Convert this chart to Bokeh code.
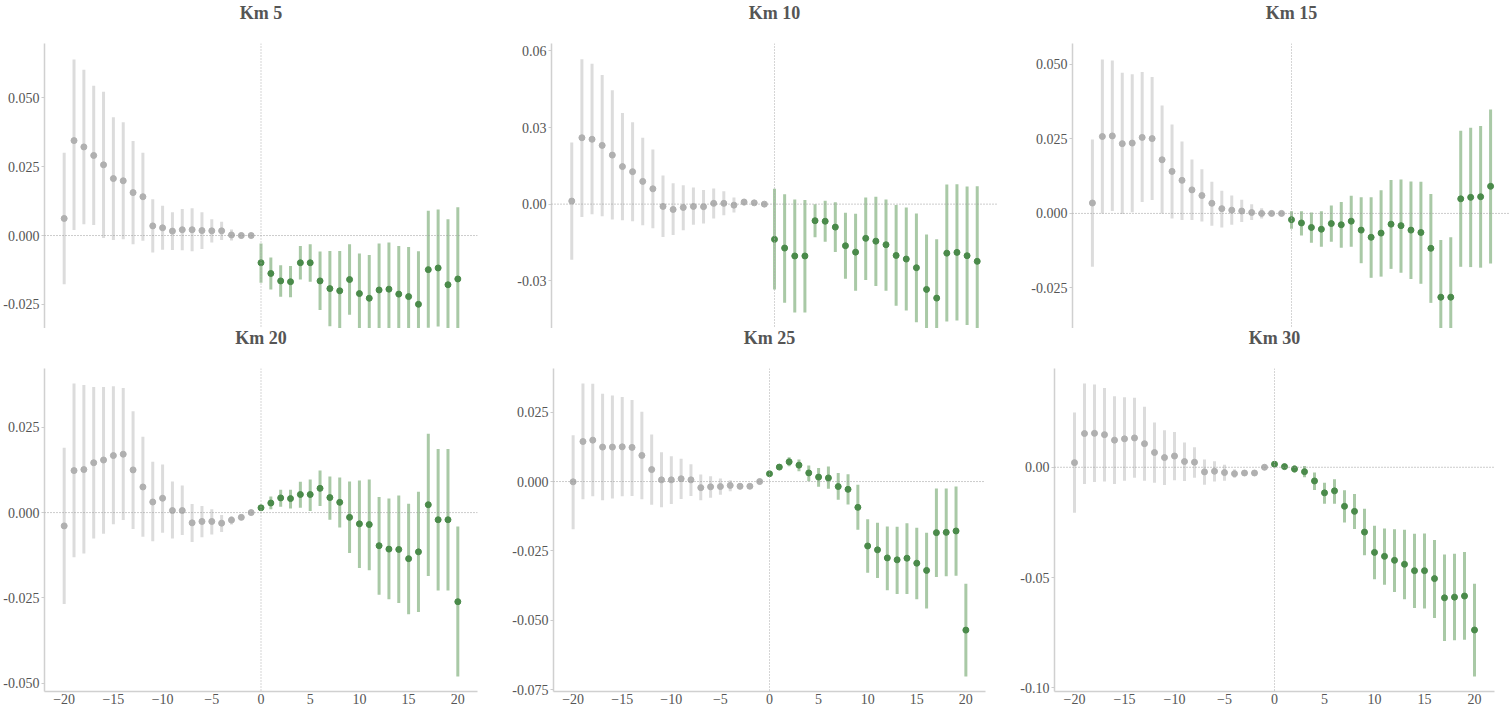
from bokeh.plotting import figure
from bokeh.layouts import column, row
from bokeh.models import Span, FixedTicker, NumeralTickFormatter, Range1d, ColumnDataSource, Label
from bokeh.embed import file_html
from bokeh.resources import INLINE

periods = list(range(-20, 21))
x_ticks = [-20, -15, -10, -5, 0, 5, 10, 15, 20]

est_km5 = [0.0062, 0.0345, 0.0322, 0.0291, 0.0257, 0.0207, 0.0199, 0.0156, 0.0141, 0.0035, 0.0028, 0.0016, 0.0021, 0.0021, 0.0018, 0.0017, 0.0017, 0.0002, 0.0000, 0.0,
           -0.0099, -0.0138, -0.0165, -0.0168, -0.0099, -0.0099, -0.0165, -0.0193, -0.0201, -0.0160, -0.0211, -0.0228, -0.0198, -0.0195, -0.0213, -0.0222, -0.0250, -0.0124, -0.0118, -0.0179, -0.0158]
hi_km5 = [0.0301, 0.0640, 0.0603, 0.0544, 0.0523, 0.0430, 0.0412, 0.0344, 0.0301, 0.0132, 0.0108, 0.0085, 0.0096, 0.0099, 0.0085, 0.0059, 0.0050, 0.0022, 0.0011, 0.0,
          -0.0029, -0.0080, -0.0108, -0.0111, -0.0038, -0.0032, -0.0058, -0.0056, -0.0056, -0.0032, -0.0065, -0.0071, -0.0029, -0.0025, -0.0038, -0.0042, -0.0057, 0.0090, 0.0095, 0.0059, 0.0103]
lo_km5 = [-0.0177, 0.0020, 0.0041, 0.0038, -0.0009, -0.0016, -0.0014, -0.0032, -0.0019, -0.0062, -0.0052, -0.0053, -0.0054, -0.0057, -0.0049, -0.0025, -0.0016, -0.0018, -0.0011, 0.0,
          -0.0172, -0.0196, -0.0223, -0.0224, -0.0160, -0.0168, -0.0271, -0.0330, -0.0346, -0.0288, -0.0357, -0.0385, -0.0367, -0.0365, -0.0388, -0.0402, -0.0443, -0.0335, -0.0331, -0.0417, -0.0419]

est_km10 = [0.0012, 0.0260, 0.0254, 0.0230, 0.0192, 0.0147, 0.0127, 0.0089, 0.0060, -0.0009, -0.0021, -0.0013, -0.0009, -0.0010, 0.0003, 0.0003, -0.0004, 0.0008, 0.0005, 0.0,
            -0.0138, -0.0172, -0.0203, -0.0203, -0.0065, -0.0067, -0.0090, -0.0163, -0.0188, -0.0134, -0.0145, -0.0159, -0.0201, -0.0215, -0.0249, -0.0334, -0.0368, -0.0192, -0.0189, -0.0202, -0.0224]
hi_km10 = [0.0241, 0.0567, 0.0550, 0.0506, 0.0446, 0.0357, 0.0321, 0.0260, 0.0214, 0.0112, 0.0082, 0.0074, 0.0065, 0.0055, 0.0061, 0.0050, 0.0026, 0.0021, 0.0012, 0.0,
           0.0060, 0.0039, 0.0018, 0.0016, 0.0000, 0.0013, 0.0007, -0.0034, -0.0038, 0.0026, 0.0029, 0.0018, -0.0003, -0.0013, -0.0037, -0.0119, -0.0138, 0.0077, 0.0078, 0.0069, 0.0070]
lo_km10 = [-0.0218, -0.0050, -0.0040, -0.0047, -0.0060, -0.0063, -0.0067, -0.0083, -0.0094, -0.0129, -0.0121, -0.0102, -0.0081, -0.0076, -0.0056, -0.0044, -0.0033, -0.0005, -0.0002, 0.0,
           -0.0334, -0.0386, -0.0424, -0.0424, -0.0130, -0.0147, -0.0187, -0.0292, -0.0339, -0.0297, -0.0321, -0.0339, -0.0398, -0.0417, -0.0463, -0.0549, -0.0598, -0.0460, -0.0456, -0.0473, -0.0518]

est_km15 = [0.0035, 0.0258, 0.0260, 0.0234, 0.0236, 0.0255, 0.0251, 0.0180, 0.0141, 0.0111, 0.0079, 0.0060, 0.0034, 0.0016, 0.0011, 0.0008, 0.0003, 0.0000, 0.0000, 0.0,
            -0.0021, -0.0032, -0.0047, -0.0053, -0.0034, -0.0038, -0.0026, -0.0056, -0.0080, -0.0066, -0.0036, -0.0041, -0.0056, -0.0064, -0.0117, -0.0281, -0.0281, 0.0049, 0.0054, 0.0056, 0.0091]
hi_km15 = [0.0248, 0.0516, 0.0513, 0.0472, 0.0467, 0.0474, 0.0458, 0.0362, 0.0298, 0.0241, 0.0181, 0.0148, 0.0106, 0.0076, 0.0060, 0.0046, 0.0031, 0.0017, 0.0008, 0.0,
           0.0007, 0.0007, 0.0003, 0.0007, 0.0027, 0.0038, 0.0059, 0.0054, 0.0054, 0.0078, 0.0112, 0.0114, 0.0107, 0.0106, 0.0065, -0.0089, -0.0080, 0.0277, 0.0287, 0.0293, 0.0349]
lo_km15 = [-0.0179, 0.0000, 0.0008, -0.0002, 0.0004, 0.0038, 0.0045, 0.0000, -0.0017, -0.0022, -0.0022, -0.0027, -0.0041, -0.0047, -0.0038, -0.0029, -0.0022, -0.0017, -0.0008, 0.0,
           -0.0051, -0.0074, -0.0098, -0.0112, -0.0095, -0.0115, -0.0112, -0.0167, -0.0216, -0.0212, -0.0186, -0.0199, -0.0220, -0.0236, -0.0300, -0.0473, -0.0482, -0.0179, -0.0180, -0.0182, -0.0168]

est_km20 = [-0.0039, 0.0123, 0.0126, 0.0146, 0.0154, 0.0167, 0.0171, 0.0125, 0.0075, 0.0031, 0.0042, 0.0006, 0.0006, -0.0030, -0.0026, -0.0026, -0.0031, -0.0022, -0.0014, 0.0,
            0.0014, 0.0028, 0.0043, 0.0041, 0.0053, 0.0053, 0.0071, 0.0044, 0.0030, -0.0014, -0.0033, -0.0035, -0.0097, -0.0107, -0.0108, -0.0135, -0.0115, 0.0023, -0.0021, -0.0021, -0.0261]
hi_km20 = [0.0190, 0.0378, 0.0374, 0.0368, 0.0368, 0.0370, 0.0365, 0.0297, 0.0222, 0.0149, 0.0141, 0.0091, 0.0079, 0.0025, 0.0019, 0.0010, -0.0007, -0.0011, -0.0008, 0.0,
           0.0022, 0.0047, 0.0067, 0.0067, 0.0090, 0.0097, 0.0123, 0.0106, 0.0103, 0.0091, 0.0094, 0.0097, 0.0046, 0.0041, 0.0050, 0.0026, 0.0061, 0.0231, 0.0186, 0.0186, -0.0041]
lo_km20 = [-0.0268, -0.0131, -0.0120, -0.0076, -0.0062, -0.0034, -0.0022, -0.0048, -0.0071, -0.0084, -0.0059, -0.0076, -0.0066, -0.0086, -0.0072, -0.0064, -0.0057, -0.0035, -0.0020, 0.0,
           0.0006, 0.0010, 0.0017, 0.0012, 0.0014, 0.0005, 0.0019, -0.0021, -0.0044, -0.0118, -0.0162, -0.0169, -0.0241, -0.0254, -0.0265, -0.0298, -0.0291, -0.0186, -0.0228, -0.0228, -0.0480]

est_km25 = [-0.0001, 0.0144, 0.0149, 0.0124, 0.0124, 0.0125, 0.0123, 0.0094, 0.0043, 0.0006, 0.0006, 0.0010, 0.0006, -0.0022, -0.0019, -0.0018, -0.0014, -0.0017, -0.0017, 0.0,
            0.0028, 0.0052, 0.0071, 0.0059, 0.0031, 0.0016, 0.0013, -0.0018, -0.0028, -0.0093, -0.0232, -0.0246, -0.0275, -0.0282, -0.0276, -0.0294, -0.0320, -0.0184, -0.0183, -0.0178, -0.0535]
hi_km25 = [0.0167, 0.0353, 0.0352, 0.0316, 0.0310, 0.0304, 0.0294, 0.0251, 0.0169, 0.0105, 0.0091, 0.0082, 0.0062, 0.0025, 0.0019, 0.0011, 0.0005, -0.0005, -0.0010, 0.0,
           0.0034, 0.0060, 0.0087, 0.0079, 0.0058, 0.0049, 0.0054, 0.0031, 0.0026, -0.0012, -0.0136, -0.0148, -0.0162, -0.0163, -0.0150, -0.0166, -0.0184, -0.0025, -0.0025, -0.0018, -0.0368]
lo_km25 = [-0.0172, -0.0064, -0.0053, -0.0067, -0.0061, -0.0053, -0.0052, -0.0064, -0.0084, -0.0093, -0.0081, -0.0063, -0.0052, -0.0067, -0.0058, -0.0048, -0.0035, -0.0029, -0.0024, 0.0,
           0.0022, 0.0044, 0.0055, 0.0037, 0.0001, -0.0019, -0.0026, -0.0066, -0.0083, -0.0174, -0.0328, -0.0347, -0.0391, -0.0405, -0.0405, -0.0424, -0.0457, -0.0344, -0.0341, -0.0339, -0.0702]

est_km30 = [0.0021, 0.0153, 0.0154, 0.0148, 0.0123, 0.0129, 0.0133, 0.0107, 0.0067, 0.0044, 0.0051, 0.0026, 0.0023, -0.0021, -0.0018, -0.0024, -0.0029, -0.0026, -0.0026, 0.0,
            0.0014, 0.0003, -0.0008, -0.0020, -0.0062, -0.0116, -0.0107, -0.0177, -0.0200, -0.0294, -0.0386, -0.0404, -0.0422, -0.0440, -0.0469, -0.0469, -0.0505, -0.0592, -0.0589, -0.0584, -0.0738]
hi_km30 = [0.0248, 0.0380, 0.0375, 0.0359, 0.0322, 0.0318, 0.0315, 0.0275, 0.0203, 0.0168, 0.0160, 0.0112, 0.0091, 0.0035, 0.0027, 0.0012, -0.0009, -0.0014, -0.0016, 0.0,
           0.0022, 0.0011, 0.0009, 0.0006, -0.0024, -0.0070, -0.0054, -0.0104, -0.0121, -0.0188, -0.0265, -0.0278, -0.0281, -0.0283, -0.0301, -0.0300, -0.0330, -0.0396, -0.0392, -0.0384, -0.0528]
lo_km30 = [-0.0206, -0.0076, -0.0067, -0.0064, -0.0076, -0.0061, -0.0048, -0.0061, -0.0070, -0.0080, -0.0059, -0.0062, -0.0047, -0.0079, -0.0064, -0.0061, -0.0048, -0.0038, -0.0036, 0.0,
           0.0006, -0.0006, -0.0024, -0.0045, -0.0103, -0.0165, -0.0165, -0.0251, -0.0280, -0.0399, -0.0508, -0.0533, -0.0566, -0.0599, -0.0638, -0.0640, -0.0684, -0.0788, -0.0785, -0.0782, -0.0949]

titles = ["Km 5", "Km 10", "Km 15", "Km 20", "Km 25", "Km 30"]
y_ticks = [[-0.025, 0.0, 0.025, 0.05], [-0.03, 0.0, 0.03, 0.06], [-0.025, 0.0, 0.025, 0.05],
           [-0.05, -0.025, 0.0, 0.025], [-0.075, -0.05, -0.025, 0.0, 0.025], [-0.1, -0.05, 0.0]]
y_formats = ["0.000", "0.00", "0.000", "0.000", "0.000", "0.00"]

FONT = "Liberation Serif"
GREY_BAR = "#dcdcdc"
GREY_DOT = "#b0b0b0"
GREEN_BAR = "#a9c9a6"
GREEN_DOT = "#4a8a4a"
TITLE_H = 24


def title_strip(title, bl, fw, br, ty):
    """Thin figure holding one panel title, centred over the panel's frame."""
    w = bl + fw + br
    t = figure(width=w, height=TITLE_H, x_range=Range1d(0, w), y_range=Range1d(0, TITLE_H),
               output_backend="svg", toolbar_location=None, title=None,
               x_axis_location=None, y_axis_location=None,
               min_border_left=0, min_border_right=0, min_border_top=0, min_border_bottom=0,
               background_fill_color="white", border_fill_color="white")
    t.outline_line_color = None
    t.grid.visible = False
    t.add_layout(Label(x=bl + fw / 2, y=ty, text=title, text_align="center", text_baseline="middle",
                       text_font=FONT, text_font_size="18px", text_font_style="bold",
                       text_color="#555555"))
    return t


def panel(est, lo, hi, yr, yt, fmt, bl, fw, br, bt, fh, bb, show_x):
    kw = dict(width=bl + fw + br, height=bt + fh + bb,
              x_range=Range1d(-22, 22), y_range=Range1d(*yr),
              output_backend="svg", toolbar_location=None, title=None,
              min_border_left=bl, min_border_right=br,
              min_border_top=bt, min_border_bottom=bb,
              background_fill_color="white", border_fill_color="white")
    if not show_x:
        kw["x_axis_location"] = None
    p = figure(**kw)
    p.outline_line_color = None
    p.grid.visible = False

    pre = [i for i, t in enumerate(periods) if t < 0]
    post = [i for i, t in enumerate(periods) if t >= 0]
    for idx, bc, dc in ((pre, GREY_BAR, GREY_DOT), (post, GREEN_BAR, GREEN_DOT)):
        src = ColumnDataSource(dict(x=[periods[i] for i in idx], y=[est[i] for i in idx],
                                    lo=[lo[i] for i in idx], hi=[hi[i] for i in idx]))
        p.segment(x0="x", y0="lo", x1="x", y1="hi", source=src, line_color=bc, line_width=3)
        p.scatter(x="x", y="y", source=src, size=6, fill_color=dc, line_color=dc)

    p.add_layout(Span(location=0, dimension="width", line_color="#999999", line_width=1, line_dash="1 2"))
    p.add_layout(Span(location=0, dimension="height", line_color="#aaaaaa", line_width=1, line_dash="1 2"))

    for ax in p.yaxis:
        ax.ticker = FixedTicker(ticks=yt)
        ax.formatter = NumeralTickFormatter(format=fmt)
        ax.axis_line_color = "#d0d0d0"
        ax.axis_line_width = 1.5
        ax.major_tick_line_color = "#cccccc"
        ax.major_tick_out = 3
        ax.major_tick_in = 0
        ax.minor_tick_line_color = None
        ax.major_label_standoff = 2
        ax.major_label_text_font = FONT
        ax.major_label_text_font_size = "14px"
        ax.major_label_text_color = "#555555"
    if show_x:
        for ax in p.xaxis:
            ax.ticker = FixedTicker(ticks=x_ticks)
            ax.axis_line_color = "#d0d0d0"
            ax.axis_line_width = 1.5
            ax.major_tick_line_color = None
            ax.major_tick_out = 0
            ax.major_tick_in = 0
            ax.minor_tick_line_color = None
            ax.major_label_standoff = 2
            ax.major_label_text_font = FONT
            ax.major_label_text_font_size = "14px"
            ax.major_label_text_color = "#555555"
    return p


# (border_left, frame_width, border_right) per column, for each row
cols1 = [(44, 433, 30), (44, 446, 30), (45, 438, 0)]
cols2 = [(44, 433, 30), (46, 432, 24), (45, 440, 16)]

t1 = [title_strip(titles[i], *cols1[i], 11.5) for i in range(3)]
t2 = [title_strip(titles[3 + i], *cols2[i], 14.5) for i in range(3)]

f1 = panel(est_km5, lo_km5, hi_km5, (-0.0338, 0.0698), y_ticks[0], y_formats[0], *cols1[0], 19, 285, 0, False)
f2 = panel(est_km10, lo_km10, hi_km10, (-0.0487, 0.0629), y_ticks[1], y_formats[1], *cols1[1], 19, 285, 0, False)
f3 = panel(est_km15, lo_km15, hi_km15, (-0.0386, 0.0570), y_ticks[2], y_formats[2], *cols1[2], 19, 285, 0, False)
f4 = panel(est_km20, lo_km20, hi_km20, (-0.0524, 0.0422), y_ticks[3], y_formats[3], *cols2[0], 16, 323, 19, True)
f5 = panel(est_km25, lo_km25, hi_km25, (-0.0756, 0.0407), y_ticks[4], y_formats[4], *cols2[1], 16, 323, 19, True)
f6 = panel(est_km30, lo_km30, hi_km30, (-0.1017, 0.0448), y_ticks[5], y_formats[5], *cols2[2], 16, 323, 19, True)

layout = column(row(*t1), row(f1, f2, f3), row(*t2), row(f4, f5, f6))
open("out.html", "w").write(file_html(layout, INLINE))
